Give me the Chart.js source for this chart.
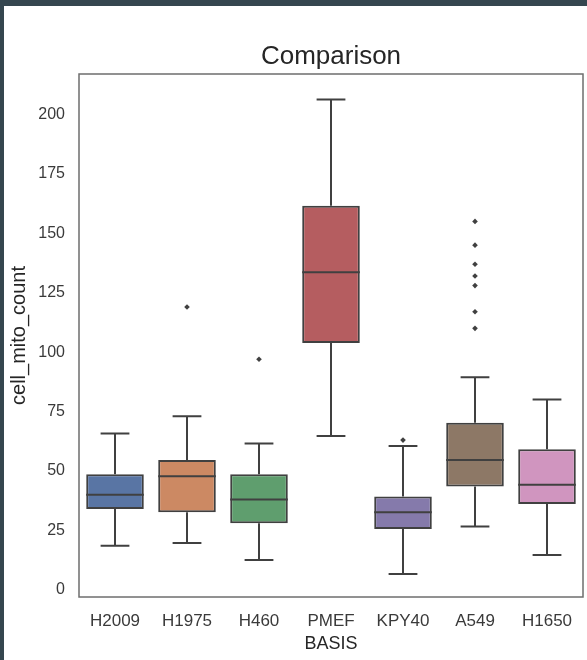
<!DOCTYPE html>
<html>
<head>
<meta charset="utf-8">
<script src="https://cdn.jsdelivr.net/npm/chart.js@4"></script>
<style>
  html, body { margin: 0; padding: 0; }
  body { width: 587px; height: 660px; background: #35464f; position: relative; overflow: hidden; }
  #wrap { position: absolute; left: 4px; top: 6px; width: 583px; height: 654px; background: #ffffff; }
</style>
</head>
<body>
<div id="wrap"><canvas id="chart" width="583" height="654"></canvas></div>
<script>
// data
var categories = ['H2009', 'H1975', 'H460', 'PMEF', 'KPY40', 'A549', 'H1650']
var whiskerLow = [18.6, 19.7, 12.6, 64.7, 6.7, 26.7, 14.7]
var q1 = [34, 32.7, 28, 103.8, 25.6, 43.5, 36.1]
var median = [40, 47.8, 38, 133.6, 32.6, 54.6, 44.2]
var q3 = [48.6, 54.6, 48.6, 161.6, 39.3, 70.3, 59.1]
var whiskerHigh = [65.8, 73, 61.6, 206.3, 60.5, 89.4, 80.1]
var outliers = [
    { x: 'H1975', y: 119 },
    { x: 'H460', y: 97 },
    { x: 'KPY40', y: 63 },
    { x: 'A549', y: 155 },
    { x: 'A549', y: 145 },
    { x: 'A549', y: 137 },
    { x: 'A549', y: 132 },
    { x: 'A549', y: 128 },
    { x: 'A549', y: 117 },
    { x: 'A549', y: 110 }
]
var yTicks = [0, 25, 50, 75, 100, 125, 150, 175, 200]

var boxColors = ['#5975a4', '#cc8963', '#5f9e6e', '#b55d60', '#857aab', '#8d7866', '#d095bf']
var lineColor = '#404040'
var fontFamily = "'Liberation Sans', Arial, sans-serif"

//whiskers, caps, medians and the frame
var boxExtras = {
    id: 'boxExtras',
    afterDatasetsDraw: function (chart) {
        var ctx = chart.ctx
        var x = chart.scales.x
        var y = chart.scales.y
        var meta = chart.getDatasetMeta(0)
        ctx.save()
        ctx.strokeStyle = lineColor
        ctx.lineWidth = 2
        for (var i = 0; i < categories.length; i++) {
            var cx = x.getPixelForValue(i)
            var half = meta.data[i].width / 2
            var capHalf = half / 2
            ctx.beginPath()
            ctx.moveTo(cx, y.getPixelForValue(q3[i]))
            ctx.lineTo(cx, y.getPixelForValue(whiskerHigh[i]))
            ctx.moveTo(cx, y.getPixelForValue(q1[i]))
            ctx.lineTo(cx, y.getPixelForValue(whiskerLow[i]))
            ctx.moveTo(cx - capHalf, y.getPixelForValue(whiskerHigh[i]))
            ctx.lineTo(cx + capHalf, y.getPixelForValue(whiskerHigh[i]))
            ctx.moveTo(cx - capHalf, y.getPixelForValue(whiskerLow[i]))
            ctx.lineTo(cx + capHalf, y.getPixelForValue(whiskerLow[i]))
            ctx.moveTo(cx - half, y.getPixelForValue(median[i]))
            ctx.lineTo(cx + half, y.getPixelForValue(median[i]))
            ctx.stroke()
        }
        var a = chart.chartArea
        ctx.strokeStyle = '#6e6e6e'
        ctx.lineWidth = 1.5
        ctx.strokeRect(a.left, a.top, a.right - a.left, a.bottom - a.top)
        ctx.restore()
    }
}

new Chart(document.getElementById('chart').getContext('2d'), {
    type: 'bar',
    data: {
        labels: categories,
        datasets: [
            {
                label: 'box',
                data: q1.map(function (v, i) { return [v, q3[i]] }),
                backgroundColor: boxColors,
                borderColor: lineColor,
                borderWidth: 2,
                borderSkipped: false,
                barPercentage: 0.8,
                categoryPercentage: 1
            },
            {
                type: 'line',
                label: 'outliers',
                data: outliers,
                showLine: false,
                pointStyle: 'rectRot',
                pointRadius: 2.8,
                pointBackgroundColor: lineColor,
                pointBorderColor: lineColor,
                pointBorderWidth: 0
            }
        ]
    },
    options: {
        responsive: false,
        animation: false,
        layout: { padding: { left: 0, right: 3, top: 0, bottom: 0 } },
        plugins: {
            legend: { display: false },
            tooltip: { enabled: false },
            title: {
                display: true,
                text: 'Comparison',
                fullSize: false,
                color: '#262626',
                font: { family: fontFamily, size: 26, weight: 'normal' },
                padding: { top: 35.4, bottom: 1.4 }
            }
        },
        scales: {
            x: {
                grid: { display: false, drawTicks: false },
                border: { display: false },
                ticks: { color: '#3a3a3a', font: { family: fontFamily, size: 17 }, padding: 14 },
                title: {
                    display: true,
                    text: 'BASIS',
                    color: '#262626',
                    font: { family: fontFamily, size: 18 },
                    padding: { top: 0, bottom: 5 }
                },
                afterFit: function (scale) { scale.height = 63 }
            },
            y: {
                min: -3,
                max: 217,
                grid: { display: false, drawTicks: false },
                border: { display: false },
                afterBuildTicks: function (scale) {
                    scale.ticks = yTicks.map(function (v) { return { value: v } })
                },
                ticks: { color: '#3a3a3a', font: { family: fontFamily, size: 16 }, padding: 14 },
                title: {
                    display: true,
                    text: 'cell_mito_count',
                    color: '#262626',
                    font: { family: fontFamily, size: 20 },
                    padding: { top: 3, bottom: 0 }
                },
                afterFit: function (scale) { scale.width = 75 }
            }
        }
    },
    plugins: [boxExtras]
})
</script>
</body>
</html>
